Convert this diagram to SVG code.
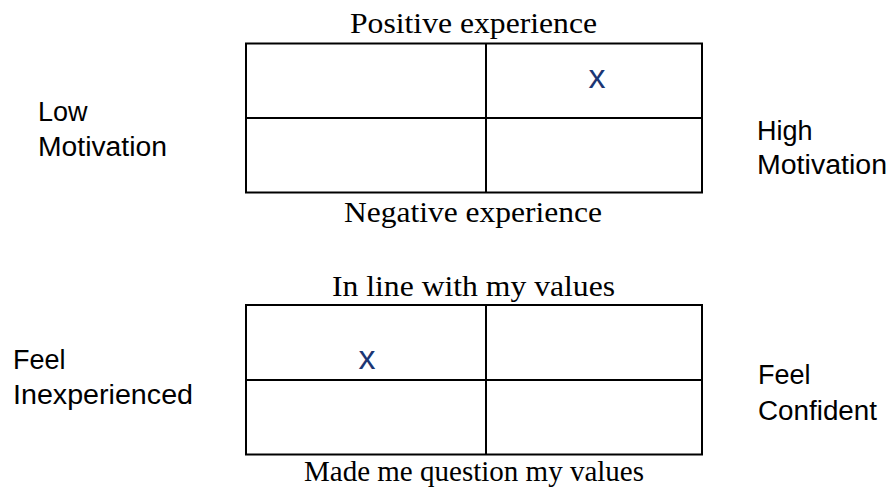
<svg xmlns="http://www.w3.org/2000/svg" width="891" height="488" viewBox="0 0 891 488">
  <style>
    .grid { fill: none; stroke: #000; stroke-width: 2; }
    .serif { font-family: "Liberation Serif", "Times New Roman", serif; font-size: 30px; fill: #000; }
    .sans { font-family: "Liberation Sans", Arial, sans-serif; font-size: 27px; fill: #000; }
    .mark { font-family: "Liberation Sans", Arial, sans-serif; font-size: 34px; fill: #1c3673; text-anchor: middle; }
  </style>
  <rect width="891" height="488" fill="#fff"/>

  <!-- Motivation / experience grid -->
  <g id="grid-motivation">
    <rect class="grid" x="246" y="43.5" width="456" height="149"/>
    <line class="grid" x1="486" y1="43.5" x2="486" y2="192.5"/>
    <line class="grid" x1="246" y1="118" x2="702" y2="118"/>
    <text class="mark" x="597" y="88">x</text>
  </g>
  <g id="label-positive">
    <text class="serif" x="350" y="33" textLength="247" lengthAdjust="spacingAndGlyphs">Positive experience</text>
  </g>
  <g id="label-negative">
    <text class="serif" x="344" y="221.5" textLength="258" lengthAdjust="spacingAndGlyphs">Negative experience</text>
  </g>
  <g id="label-low">
    <text class="sans" x="38" y="121">Low</text>
    <text class="sans" x="38" y="155.5" textLength="129" lengthAdjust="spacingAndGlyphs">Motivation</text>
  </g>
  <g id="label-high">
    <text class="sans" x="757" y="140">High</text>
    <text class="sans" x="757" y="173.5" textLength="130" lengthAdjust="spacingAndGlyphs">Motivation</text>
  </g>

  <!-- Values / confidence grid -->
  <g id="grid-values">
    <rect class="grid" x="246" y="305" width="456" height="149.5"/>
    <line class="grid" x1="486" y1="305" x2="486" y2="454.5"/>
    <line class="grid" x1="246" y1="380" x2="702" y2="380"/>
    <text class="mark" x="367" y="369">x</text>
  </g>
  <g id="label-inline">
    <text class="serif" x="332" y="296" textLength="283" lengthAdjust="spacingAndGlyphs">In line with my values</text>
  </g>
  <g id="label-question">
    <text class="serif" x="304" y="481" textLength="340" lengthAdjust="spacingAndGlyphs">Made me question my values</text>
  </g>
  <g id="label-inexperienced">
    <text class="sans" x="13" y="368.5">Feel</text>
    <text class="sans" x="13" y="403.5" textLength="180" lengthAdjust="spacingAndGlyphs">Inexperienced</text>
  </g>
  <g id="label-confident">
    <text class="sans" x="758" y="384">Feel</text>
    <text class="sans" x="758" y="420" textLength="119" lengthAdjust="spacingAndGlyphs">Confident</text>
  </g>
</svg>
